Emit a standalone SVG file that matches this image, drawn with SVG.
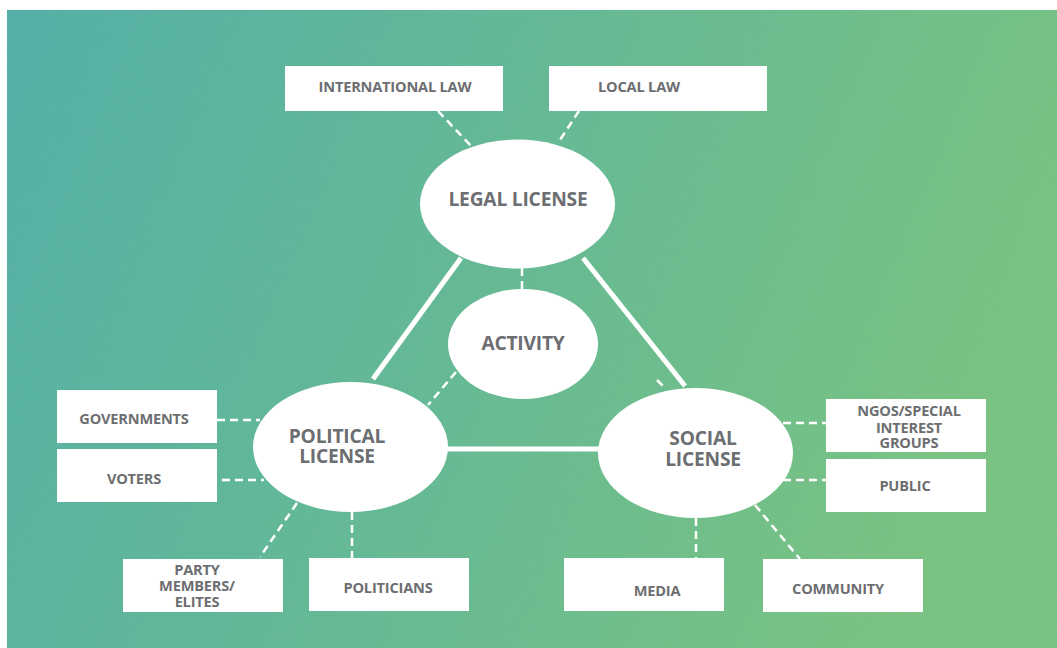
<svg xmlns="http://www.w3.org/2000/svg" width="1057" height="648" viewBox="0 0 1057 648">
  <defs>
    <linearGradient id="bg" x1="0" y1="0" x2="1" y2="0.25">
      <stop offset="0" stop-color="#53b0a7"/>
      <stop offset="0.5" stop-color="#64b995"/>
      <stop offset="1" stop-color="#79c382"/>
    </linearGradient>
    <filter id="grain" x="0" y="0" width="100%" height="100%">
      <feTurbulence type="fractalNoise" baseFrequency="0.9 0.08" numOctaves="2" seed="4" result="n"/>
      <feColorMatrix in="n" type="matrix" values="0 0 0 0 0.2  0 0 0 0 0.45  0 0 0 0 0.4  0 0 0 0.9 -0.35"/>
    </filter>
    <style>
      .box { fill: #ffffff; }
      .oval { fill: #ffffff; }
      .solid { stroke: #ffffff; stroke-width: 5; fill: none; }
      .dash { stroke: #ffffff; stroke-width: 2.5; stroke-dasharray: 8 5; fill: none; }
      .lbl { font-family: "Open Sans", "Liberation Sans", sans-serif; font-weight: 700; fill: #6d6e71; text-anchor: middle; }
      .sm { font-size: 14.6px; letter-spacing: -0.2px; }
      .lg { font-size: 19.2px; letter-spacing: -0.2px; }
    </style>
  </defs>

  <!-- background panel -->
  <rect x="0" y="0" width="1057" height="648" fill="#ffffff"/>
  <rect x="7" y="10" width="1050" height="638" fill="url(#bg)"/>
  <rect x="7" y="10" width="1050" height="638" filter="url(#grain)" opacity="0.35"/>

  <!-- connectors -->
  <g id="connectors">
    <line class="solid" x1="461" y1="258" x2="373" y2="379"/>
    <line class="solid" x1="583" y1="258" x2="685" y2="386"/>
    <line class="solid" x1="446" y1="449" x2="600" y2="449"/>

    <line class="dash" x1="438" y1="111" x2="472" y2="147"/>
    <line class="dash" x1="579" y1="111" x2="558" y2="143"/>
    <line class="dash" x1="522" y1="268" x2="522" y2="290"/>
    <line class="dash" x1="456" y1="372" x2="428" y2="405"/>
    <line class="dash" x1="657" y1="380" x2="666" y2="389" stroke-dasharray="9 20"/>

    <line class="dash" x1="217" y1="420" x2="260" y2="420"/>
    <line class="dash" x1="222" y1="480" x2="264" y2="480"/>
    <line class="dash" x1="297" y1="503" x2="260" y2="557"/>
    <line class="dash" x1="352" y1="512" x2="352" y2="558"/>

    <line class="dash" x1="783" y1="423" x2="826" y2="423"/>
    <line class="dash" x1="783" y1="480" x2="826" y2="480"/>
    <line class="dash" x1="696" y1="518" x2="696" y2="558"/>
    <line class="dash" x1="755" y1="505" x2="800" y2="559"/>
  </g>

  <!-- central licences -->
  <g id="legal-license">
    <ellipse class="oval" cx="517.5" cy="204" rx="97.5" ry="64.5"/>
    <text class="lbl lg" x="518" y="206">LEGAL LICENSE</text>
  </g>
  <g id="activity">
    <ellipse class="oval" cx="523" cy="344" rx="75" ry="55"/>
    <text class="lbl lg" x="523" y="350">ACTIVITY</text>
  </g>
  <g id="political-license">
    <ellipse class="oval" cx="350.5" cy="447" rx="97.5" ry="65"/>
    <text class="lbl lg" x="337" y="443">POLITICAL</text>
    <text class="lbl lg" x="337" y="463">LICENSE</text>
  </g>
  <g id="social-license">
    <ellipse class="oval" cx="695.5" cy="453" rx="97.5" ry="65"/>
    <text class="lbl lg" x="703" y="445">SOCIAL</text>
    <text class="lbl lg" x="703" y="466">LICENSE</text>
  </g>

  <!-- stakeholders -->
  <g id="international-law">
    <rect class="box" x="285" y="66" width="218" height="45"/>
    <text class="lbl sm" x="395" y="92">INTERNATIONAL LAW</text>
  </g>
  <g id="local-law">
    <rect class="box" x="549" y="66" width="218" height="45"/>
    <text class="lbl sm" x="639" y="92">LOCAL LAW</text>
  </g>
  <g id="governments">
    <rect class="box" x="57" y="390" width="160" height="53"/>
    <text class="lbl sm" x="134" y="424">GOVERNMENTS</text>
  </g>
  <g id="voters">
    <rect class="box" x="57" y="449" width="160" height="53"/>
    <text class="lbl sm" x="134" y="484">VOTERS</text>
  </g>
  <g id="party-members">
    <rect class="box" x="123" y="559" width="160" height="53"/>
    <text class="lbl sm" x="197" y="575">PARTY</text>
    <text class="lbl sm" x="197" y="591">MEMBERS/</text>
    <text class="lbl sm" x="197" y="607">ELITES</text>
  </g>
  <g id="politicians">
    <rect class="box" x="309" y="558" width="160" height="53"/>
    <text class="lbl sm" x="388" y="593">POLITICIANS</text>
  </g>
  <g id="ngos">
    <rect class="box" x="826" y="399" width="160" height="53"/>
    <text class="lbl sm" x="909" y="416">NGOS/SPECIAL</text>
    <text class="lbl sm" x="909" y="433">INTEREST</text>
    <text class="lbl sm" x="909" y="448">GROUPS</text>
  </g>
  <g id="public">
    <rect class="box" x="826" y="459" width="160" height="53"/>
    <text class="lbl sm" x="905" y="491">PUBLIC</text>
  </g>
  <g id="media">
    <rect class="box" x="564" y="558" width="160" height="53"/>
    <text class="lbl sm" x="657" y="596">MEDIA</text>
  </g>
  <g id="community">
    <rect class="box" x="763" y="559" width="160" height="53"/>
    <text class="lbl sm" x="838" y="594">COMMUNITY</text>
  </g>
</svg>
